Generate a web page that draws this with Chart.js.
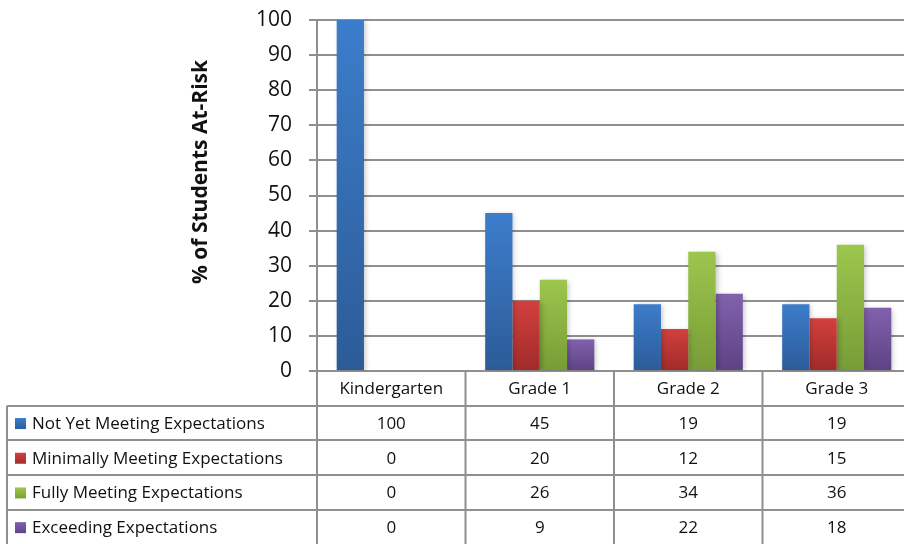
<!DOCTYPE html>
<html>
<head>
<meta charset="utf-8">
<script src="https://cdn.jsdelivr.net/npm/chart.js@4"></script>
<style>
  html, body { margin: 0; padding: 0; background: #fff; overflow: hidden; }
</style>
</head>
<body>
<canvas id="myChart" width="912" height="544"></canvas>
<script>
const categories = ['Kindergarten', 'Grade 1', 'Grade 2', 'Grade 3'];
const notYetMeeting = [100, 45, 19, 19];
const minimallyMeeting = [0, 20, 12, 15];
const fullyMeeting = [0, 26, 34, 36];
const exceeding = [0, 9, 22, 18];
const yTicks = [0, 10, 20, 30, 40, 50, 60, 70, 80, 90, 100];
const yTitle = '% of Students At-Risk';

const FONT = '"Open Sans", Lato, sans-serif';
const GRID = '#8f8f8f';

// top / bottom colours of each bar gradient
const shades = [
  ['#3c7dcb', '#2c5b97'],
  ['#d2403d', '#a02b2a'],
  ['#9dc64d', '#779c36'],
  ['#8161ad', '#5d4284']
];

function barFill(i) {
  return (c) => {
    const chart = c.chart;
    const y = chart.scales.y;
    if (!chart.chartArea || !y || c.parsed == null) return shades[i][0];
    const top = y.getPixelForValue(c.parsed.y);
    const bottom = y.getPixelForValue(0);
    if (bottom - top < 1) return shades[i][0];
    const g = chart.ctx.createLinearGradient(0, top, 0, bottom);
    g.addColorStop(0, shades[i][0]);
    g.addColorStop(1, shades[i][1]);
    return g;
  };
}

const series = [
  { label: 'Not Yet Meeting Expectations', data: notYetMeeting },
  { label: 'Minimally Meeting Expectations', data: minimallyMeeting },
  { label: 'Fully Meeting Expectations', data: fullyMeeting },
  { label: 'Exceeding Expectations', data: exceeding }
];

// soft shadow behind the bars
const barShadow = {
  id: 'barShadow',
  beforeDatasetsDraw(chart) {
    const ctx = chart.ctx;
    ctx.save();
    ctx.shadowColor = 'rgba(0,0,0,0.22)';
    ctx.shadowBlur = 5;
    ctx.shadowOffsetX = 2;
    ctx.shadowOffsetY = 1;
  },
  afterDatasetsDraw(chart) {
    chart.ctx.restore();
  }
};

// data table under the plot, plus the axis title (sits a bit above centre)
const dataTable = {
  id: 'dataTable',
  afterDraw(chart) {
    const ctx = chart.ctx;
    const x = chart.scales.x;
    const area = chart.chartArea;
    const rowH = 34.7;
    const top = area.bottom;
    const tableLeft = 7;
    const half = (area.right - area.left) / categories.length / 2;
    ctx.save();

    ctx.save();
    ctx.translate(201, 172);
    ctx.rotate(-Math.PI / 2);
    ctx.fillStyle = '#111';
    ctx.font = 'bold 21px ' + FONT;
    ctx.textAlign = 'center';
    ctx.textBaseline = 'middle';
    ctx.fillText(yTitle, 0, 0);
    ctx.restore();

    ctx.strokeStyle = GRID;
    ctx.lineWidth = 2;

    // vertical lines
    ctx.beginPath();
    ctx.moveTo(area.left, area.bottom);
    ctx.lineTo(area.left, chart.height);
    categories.forEach((c, i) => {
      const r = x.getPixelForValue(i) + half;
      ctx.moveTo(r, top);
      ctx.lineTo(r, chart.height);
    });
    ctx.moveTo(tableLeft, top + rowH);
    ctx.lineTo(tableLeft, chart.height);
    // horizontal lines
    for (let r = 1; r <= series.length; r++) {
      const yy = Math.round(top + rowH * r);
      ctx.moveTo(tableLeft, yy);
      ctx.lineTo(area.right, yy);
    }
    ctx.stroke();

    ctx.fillStyle = '#111';
    ctx.font = '17px ' + FONT;
    ctx.textBaseline = 'middle';
    ctx.textAlign = 'center';
    categories.forEach((c, i) => {
      ctx.fillText(c, x.getPixelForValue(i), top + rowH / 2 + 1);
    });

    series.forEach((s, r) => {
      const cy = top + rowH * (r + 1) + rowH / 2 + 1;
      // legend key
      const g = ctx.createLinearGradient(0, cy - 6, 0, cy + 6);
      g.addColorStop(0, shades[r][0]);
      g.addColorStop(1, shades[r][1]);
      ctx.fillStyle = g;
      ctx.fillRect(15, cy - 6, 11, 11);
      ctx.fillStyle = '#111';
      ctx.textAlign = 'left';
      ctx.fillText(s.label, 32, cy);
      ctx.textAlign = 'center';
      s.data.forEach((v, i) => {
        ctx.fillText(String(v), x.getPixelForValue(i), cy);
      });
    });
    ctx.restore();
  }
};

new Chart(document.getElementById('myChart'), {
  type: 'bar',
  data: {
    labels: categories,
    datasets: series.map((s, i) => ({
      label: s.label,
      data: s.data,
      backgroundColor: barFill(i),
      borderWidth: 0,
      categoryPercentage: 0.735,
      barPercentage: 1
    }))
  },
  options: {
    responsive: false,
    animation: false,
    devicePixelRatio: 1,
    layout: { padding: { top: 20, left: 0, right: 1, bottom: 173 } },
    plugins: {
      legend: { display: false },
      tooltip: { enabled: false }
    },
    scales: {
      x: {
        ticks: { display: false },
        grid: { display: false, drawTicks: false },
        border: { display: false },
        afterFit: (s) => { s.height = 0; }
      },
      y: {
        min: 0,
        max: 100,
        afterBuildTicks: (s) => { s.ticks = yTicks.map(v => ({ value: v })); },
        ticks: {
          padding: 17,
          color: '#111',
          font: { family: FONT, size: 21 }
        },
        grid: { color: GRID, lineWidth: 2, tickLength: 8 },
        border: { color: GRID, width: 2 },
        afterFit: (s) => {
          s.width = 317;
          s.paddingTop = 0;
          s.paddingBottom = 0;
        }
      }
    }
  },
  plugins: [barShadow, dataTable]
});
</script>
</body>
</html>
